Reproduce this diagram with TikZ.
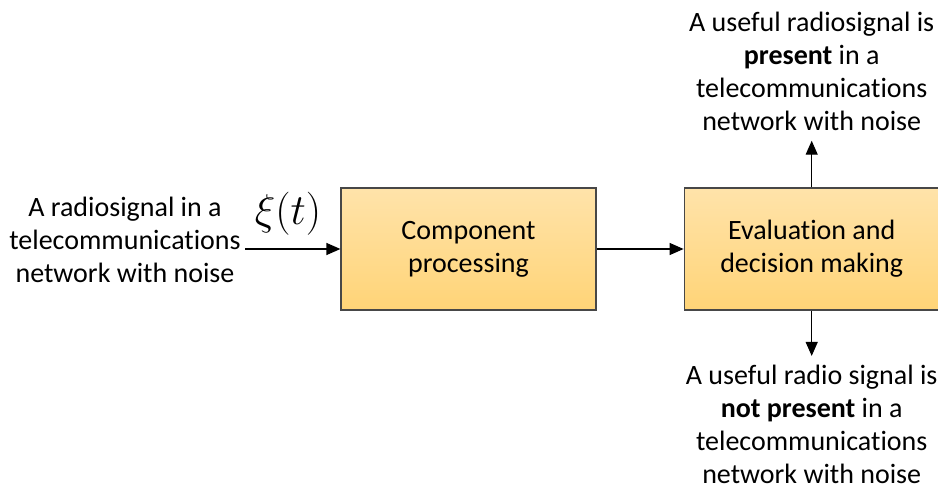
\documentclass[tikz,border=0pt]{standalone}
\usepackage{fontspec}
\setmainfont{Carlito}[Ligatures=NoCommon]
\usepackage{tikz}
\usetikzlibrary{arrows.meta,positioning}
\definecolor{boxtop}{HTML}{FFE3AA}
\definecolor{boxbot}{HTML}{FFD477}
\tikzstyle{block}=[rectangle,draw=black!72,line width=0.9pt,top color=boxtop,bottom color=boxbot,minimum width=191.25pt,minimum height=91.5pt,align=center,font=\fontsize{21}{24.75}\selectfont]
\tikzstyle{caption}=[align=center,inner sep=0pt,font=\fontsize{21}{24.75}\selectfont]
\tikzstyle{flow}=[line width=0.9pt,-{Triangle[length=10.5pt,width=9pt]}]

\begin{document}
\begin{tikzpicture}[x=0.75pt,y=-0.75pt]
            \useasboundingbox (0,0) rectangle (938,491);

            \node[block] (comp) at (468.5,249) {Component\\processing};
            \node[block] (eval) [right=65.25pt of comp] {Evaluation and\\decision making};
            \path[flow] (comp) edge (eval);

            \node[caption] (input) at (125,240) {A radiosignal in a\\telecommunications\\network with noise};
            \coordinate (src) at (245,249);
            \node[font=\Huge] (xi) at (288,214) {\scalebox{1.3}{$\xi(t)$}};
            \path[flow] (src) edge (comp);

            \node[caption] (yes) [above=42pt of eval] {A useful radiosignal is\\\textbf{present} in a\\telecommunications\\network with noise};
            \path[flow,shorten >=7pt] (eval) edge (yes);

            \node[caption] (no) [below=41pt of eval] {A useful radio signal is\\\textbf{not present} in a\\telecommunications\\network with noise};
            \path[flow,shorten >=7pt] (eval) edge (no);

        \end{tikzpicture}
\end{document}
